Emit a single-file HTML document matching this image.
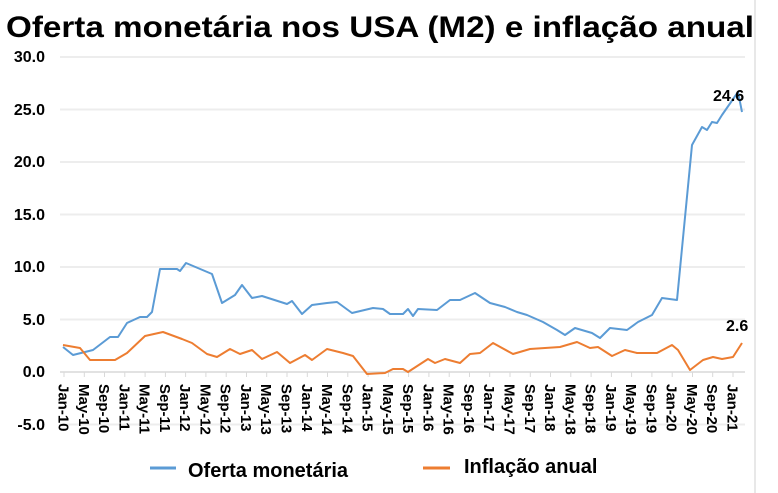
<!DOCTYPE html>
<html><head><meta charset="utf-8"><style>body{margin:0;background:#fff}svg{display:block}</style></head><body>
<svg width="778" height="493" xmlns="http://www.w3.org/2000/svg" font-family="Liberation Sans, sans-serif">
<rect width="778" height="493" fill="#fff"/>
<text x="6" y="37" font-size="30" font-weight="bold" textLength="748" lengthAdjust="spacingAndGlyphs">Oferta monetária nos USA (M2) e inflação anual</text>
<g stroke="#ededed" stroke-width="2">
<line x1="60" x2="745" y1="57" y2="57"/><line x1="60" x2="745" y1="109.5" y2="109.5"/><line x1="60" x2="745" y1="162" y2="162"/><line x1="60" x2="745" y1="214.5" y2="214.5"/><line x1="60" x2="745" y1="267" y2="267"/><line x1="60" x2="745" y1="319.5" y2="319.5"/><line x1="60" x2="745" y1="424.5" y2="424.5"/>
</g>
<line x1="60" x2="745" y1="372" y2="372" stroke="#d9d9d9" stroke-width="1.5"/>
<line x1="755" x2="755" y1="0" y2="493" stroke="#e0e0e0" stroke-width="1.5"/>
<g font-size="16" font-weight="bold" text-anchor="end" fill="#000">
<text x="45" y="62">30.0</text><text x="45" y="115">25.0</text><text x="45" y="167">20.0</text><text x="45" y="220">15.0</text><text x="45" y="272">10.0</text><text x="45" y="325">5.0</text><text x="45" y="377">0.0</text><text x="45" y="430">-5.0</text>
</g>
<g stroke="#d9d9d9">
<line x1="64" x2="64" y1="372" y2="377"/><line x1="84.3" x2="84.3" y1="372" y2="377"/><line x1="104.5" x2="104.5" y1="372" y2="377"/><line x1="124.8" x2="124.8" y1="372" y2="377"/><line x1="145.1" x2="145.1" y1="372" y2="377"/><line x1="165.4" x2="165.4" y1="372" y2="377"/><line x1="185.6" x2="185.6" y1="372" y2="377"/><line x1="205.9" x2="205.9" y1="372" y2="377"/><line x1="226.2" x2="226.2" y1="372" y2="377"/><line x1="246.5" x2="246.5" y1="372" y2="377"/><line x1="266.7" x2="266.7" y1="372" y2="377"/><line x1="287" x2="287" y1="372" y2="377"/><line x1="307.3" x2="307.3" y1="372" y2="377"/><line x1="327.5" x2="327.5" y1="372" y2="377"/><line x1="347.8" x2="347.8" y1="372" y2="377"/><line x1="368.1" x2="368.1" y1="372" y2="377"/><line x1="388.4" x2="388.4" y1="372" y2="377"/><line x1="408.6" x2="408.6" y1="372" y2="377"/><line x1="428.9" x2="428.9" y1="372" y2="377"/><line x1="449.2" x2="449.2" y1="372" y2="377"/><line x1="469.5" x2="469.5" y1="372" y2="377"/><line x1="489.7" x2="489.7" y1="372" y2="377"/><line x1="510" x2="510" y1="372" y2="377"/><line x1="530.3" x2="530.3" y1="372" y2="377"/><line x1="550.5" x2="550.5" y1="372" y2="377"/><line x1="570.8" x2="570.8" y1="372" y2="377"/><line x1="591.1" x2="591.1" y1="372" y2="377"/><line x1="611.4" x2="611.4" y1="372" y2="377"/><line x1="631.6" x2="631.6" y1="372" y2="377"/><line x1="651.9" x2="651.9" y1="372" y2="377"/><line x1="672.2" x2="672.2" y1="372" y2="377"/><line x1="692.5" x2="692.5" y1="372" y2="377"/><line x1="712.7" x2="712.7" y1="372" y2="377"/><line x1="733" x2="733" y1="372" y2="377"/>
</g>
<g font-size="15" font-weight="bold" fill="#000">
<text transform="translate(58.5,384) rotate(90)">Jan-10</text>
<text transform="translate(78.8,384) rotate(90)">May-10</text>
<text transform="translate(99,384) rotate(90)">Sep-10</text>
<text transform="translate(119.3,384) rotate(90)">Jan-11</text>
<text transform="translate(139.6,384) rotate(90)">May-11</text>
<text transform="translate(159.9,384) rotate(90)">Sep-11</text>
<text transform="translate(180.1,384) rotate(90)">Jan-12</text>
<text transform="translate(200.4,384) rotate(90)">May-12</text>
<text transform="translate(220.7,384) rotate(90)">Sep-12</text>
<text transform="translate(241,384) rotate(90)">Jan-13</text>
<text transform="translate(261.2,384) rotate(90)">May-13</text>
<text transform="translate(281.5,384) rotate(90)">Sep-13</text>
<text transform="translate(301.8,384) rotate(90)">Jan-14</text>
<text transform="translate(322,384) rotate(90)">May-14</text>
<text transform="translate(342.3,384) rotate(90)">Sep-14</text>
<text transform="translate(362.6,384) rotate(90)">Jan-15</text>
<text transform="translate(382.9,384) rotate(90)">May-15</text>
<text transform="translate(403.1,384) rotate(90)">Sep-15</text>
<text transform="translate(423.4,384) rotate(90)">Jan-16</text>
<text transform="translate(443.7,384) rotate(90)">May-16</text>
<text transform="translate(464,384) rotate(90)">Sep-16</text>
<text transform="translate(484.2,384) rotate(90)">Jan-17</text>
<text transform="translate(504.5,384) rotate(90)">May-17</text>
<text transform="translate(524.8,384) rotate(90)">Sep-17</text>
<text transform="translate(545,384) rotate(90)">Jan-18</text>
<text transform="translate(565.3,384) rotate(90)">May-18</text>
<text transform="translate(585.6,384) rotate(90)">Sep-18</text>
<text transform="translate(605.9,384) rotate(90)">Jan-19</text>
<text transform="translate(626.1,384) rotate(90)">May-19</text>
<text transform="translate(646.4,384) rotate(90)">Sep-19</text>
<text transform="translate(666.7,384) rotate(90)">Jan-20</text>
<text transform="translate(687,384) rotate(90)">May-20</text>
<text transform="translate(707.2,384) rotate(90)">Sep-20</text>
<text transform="translate(727.5,384) rotate(90)">Jan-21</text>
</g>
<polyline fill="none" stroke="#5b9bd5" stroke-width="2" stroke-linejoin="round" points="63,347 73,355 93,350 110,337 118,337 127,323 140,317 147,317 152,312 160,269 177,269 180,271 186,263 212,274 222,303 235,295 242,285 252,298 262,296 287,304 292,301 302,314 312,305 327,303 337,302 352,313 373,308 383,309 390,314 403,314 408,309 413,316 418,309 437,310 450,300 460,300 475,293 490,303 505,307 517,312 527,315 543,322 557,330 565,335 575,328 592,333 600,338 610,328 627,330 638,322 652,315 662,298 677,300 692,145 702,127 707,130 712,122 717,123 722,115 738,92 742,112"/>
<polyline fill="none" stroke="#ed7d31" stroke-width="2" stroke-linejoin="round" points="63,345 80,348 90,360 115,360 127,353 145,336 163,332 182,339 192,343 207,354 217,357 230,349 240,354 252,350 262,359 277,352 290,363 305,355 312,360 327,349 343,353 353,356 367,374 385,373 393,369 403,369 408,372 428,359 435,363 445,359 460,363 470,354 480,353 493,343 513,354 530,349 560,347 577,342 590,348 598,347 612,356 625,350 637,353 657,353 672,345 678,350 690,370 703,360 713,357 722,359 733,357 742,343"/>
<g font-size="16" font-weight="bold" fill="#000"><text x="713" y="101">24.6</text><text x="726" y="331">2.6</text></g>
<line x1="150" x2="176" y1="468" y2="468" stroke="#5b9bd5" stroke-width="3"/>
<line x1="423" x2="450" y1="468" y2="468" stroke="#ed7d31" stroke-width="3"/>
<g font-size="20" font-weight="bold"><text x="188" y="477">Oferta monetária</text><text x="464" y="473">Inflação anual</text></g>
</svg>
</body></html>
